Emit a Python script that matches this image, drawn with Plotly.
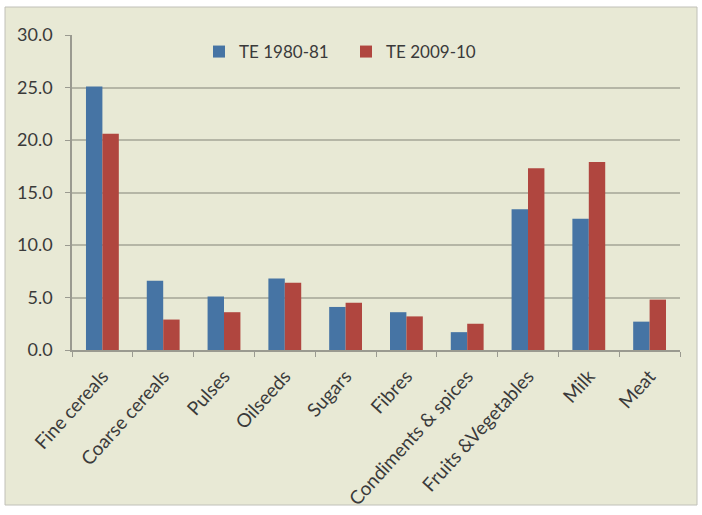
import plotly.graph_objects as go

categories = ["Fine cereals", "Coarse cereals", "Pulses", "Oilseeds", "Sugars",
              "Fibres", "Condiments & spices", "Fruits &Vegetables", "Milk", "Meat"]
te_1980_81 = [25.1, 6.6, 5.1, 6.8, 4.1, 3.6, 1.7, 13.4, 12.5, 2.7]
te_2009_10 = [20.6, 2.9, 3.6, 6.4, 4.5, 3.2, 2.5, 17.3, 17.9, 4.8]
y_ticks = [0, 5, 10, 15, 20, 25, 30]

W, H = 702, 515
L, R, T, B = 72, 22, 35, 165
pw, ph = W - L - R, H - T - B

def px_x(px):
    return (px - L) / pw

def px_y(py):
    return (H - B - py) / ph

bg = "#e8e9d5"
font = "Lato, Open Sans, Arial"
txt = "#3a3a3a"

fig = go.Figure()
fig.add_trace(go.Bar(x=categories, y=te_1980_81, name="TE 1980-81",
                     marker=dict(color="#4674a4", line=dict(width=0))))
fig.add_trace(go.Bar(x=categories, y=te_2009_10, name="TE 2009-10",
                     marker=dict(color="#b0463f", line=dict(width=0))))

fig.add_shape(type="rect", xref="paper", yref="paper", layer="below",
              x0=px_x(5), x1=px_x(697), y0=px_y(505), y1=px_y(7),
              fillcolor=bg, line=dict(color="#c0c0b8", width=1))

fig.update_layout(
    width=W, height=H,
    margin=dict(l=L, r=R, t=T, b=B, pad=0, autoexpand=False),
    paper_bgcolor="white",
    plot_bgcolor="rgba(0,0,0,0)",
    barmode="group",
    bargap=0.46,
    bargroupgap=0,
    font=dict(family=font, size=18, color=txt),
    showlegend=True,
    legend=dict(orientation="h", x=px_x(199), y=px_y(34), xanchor="left", yanchor="top",
                bgcolor="rgba(0,0,0,0)", font=dict(size=17, color=txt),
                entrywidth=102, entrywidthmode="pixels", itemwidth=30,
                traceorder="normal"),
    xaxis=dict(showline=True, linecolor="#9a9a90", linewidth=1.5, automargin=False,
               ticks="outside", tickson="boundaries", ticklen=5, tickcolor="#9a9a90",
               tickangle=-48, tickfont=dict(size=19, color=txt),
               ticklabelstandoff=6, showgrid=False),
    yaxis=dict(range=[0, 30], tickvals=y_ticks, tickformat=".1f", automargin=False,
               showline=True, linecolor="#9a9a90", linewidth=1.5,
               ticks="outside", ticklen=5, tickcolor="#9a9a90",
               ticklabelstandoff=9,
               showgrid=True, gridcolor="#b5b6a6", gridwidth=2,
               zeroline=False, tickfont=dict(size=18, color=txt)),
)

fig.write_html("out.html", config={"displayModeBar": False},
               post_script="document.body.style.margin='0';document.body.style.overflow='hidden';")
